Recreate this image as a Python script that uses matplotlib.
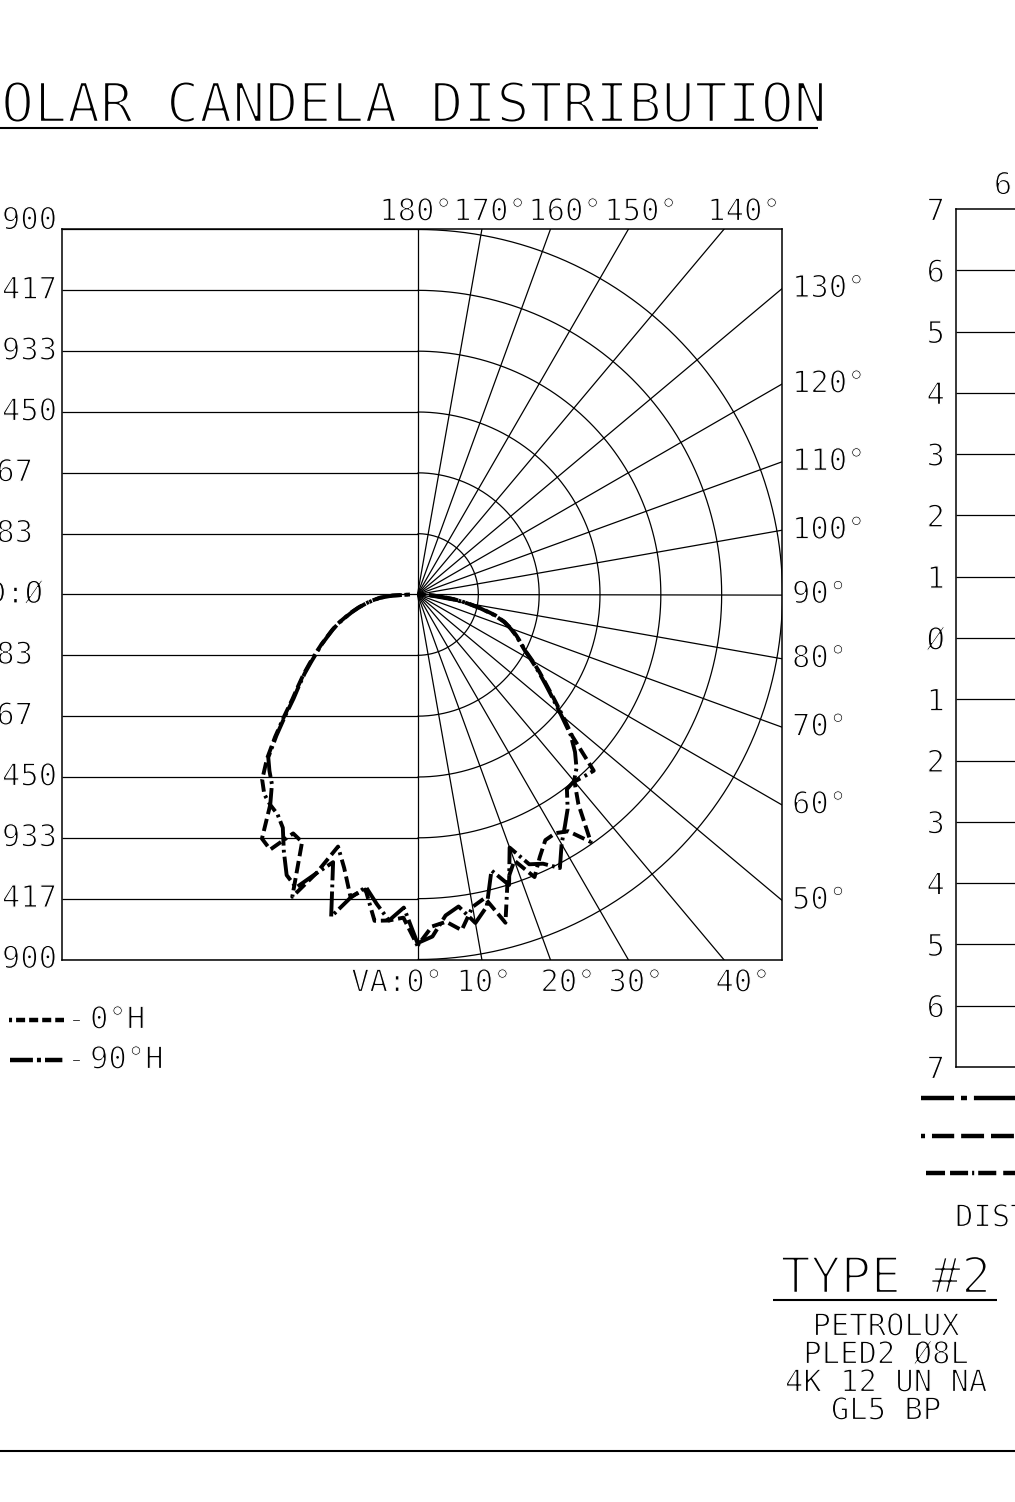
import numpy as np
import matplotlib.pyplot as plt
import matplotlib.transforms as mtransforms
from matplotlib import patheffects as pe

plt.rcParams["font.family"] = ["DejaVu Sans Mono", "DejaVu Sans"]
plt.rcParams["lines.scale_dashes"] = False
plt.rcParams["lines.dash_capstyle"] = "butt"
plt.rcParams["lines.solid_capstyle"] = "butt"

W, H = 1015, 1502

# ---- chart values ----
cd_max = 2900
cd_rings = 6
cd_tick_labels = ["2900", "2417", "1933", "1450", "967", "483", "CD:Ø",
                  "483", "967", "1450", "1933", "2417", "2900"]

grid_angles = np.arange(0, 181, 10)
top_labels = ["180°", "170°", "160°", "150°", "140°"]
right_label_angles = [130, 120, 110, 100, 90, 80, 70, 60, 50]
bottom_labels = ["VA:0°", "10°", "20°", "30°", "40°"]

# vertical angle (deg from nadir) and candela for each half plane
va = np.arange(0, 90.1, 2.5)

cd_0h_right = [2790, 2640, 2610, 2690, 2520, 2470, 2700, 2380, 2250, 2430,
               2300, 2200, 2190, 2230, 2400, 2100, 1940,
               1960, 1980, 1670, 1510, 1370, 1250, 1150, 1055, 965, 905,
               850, 790, 725, 640, 525, 410, 300, 190, 90, 20]
cd_90h_right = [2770, 2720, 2560, 2500, 2650, 2540, 2270, 2420, 2140, 2320,
                2360, 2450, 2290, 2180, 2080, 1950, 1935,
                1870, 1770, 1650, 1490, 1355, 1240, 1140, 1045, 960, 900,
                845, 785, 720, 630, 515, 400, 290, 180, 85, 15]
cd_0h_left = [2790, 2570, 2600, 2615, 2380, 2460, 2250, 2100, 2360, 2600,
              2170, 2140, 2340, 2300, 2040, 2000, 1920,
              1770, 1600, 1440, 1300, 1195, 1105, 1015, 935, 862, 792,
              732, 672, 602, 542, 482, 422, 362, 300, 200, 60]
cd_90h_left = [2770, 2490, 2600, 2480, 2360, 2470, 2650, 2230, 2360, 2520,
               2460, 2300, 2140, 2070, 2040, 1900, 1830,
               1755, 1585, 1425, 1285, 1185, 1095, 1005, 925, 858, 788,
               728, 668, 598, 538, 478, 418, 358, 298, 198, 55]

dist_ticks = np.arange(7, -8, -1)
dist_labels = ["Ø" if v == 0 else str(abs(v)) for v in dist_ticks]

luminaire_lines = ["PETROLUX", "PLED2 Ø8L", "4K 12 UN NA", "GL5 BP"]

# ---- styles ----
style_0h = (0, (2, 3, 9, 3.5, 9, 3.5, 9, 3.5, 9, 3.5))
style_90h = (0, (18, 3, 2, 3))
thin = [pe.Stroke(linewidth=0.9, foreground="white")]
thin_big = [pe.Stroke(linewidth=1.8, foreground="white")]
LBL = 22
GRID_LW = 0.9


def fig_rect(x0, y0, x1, y1):
    return [x0 / W, 1 - y1 / H, (x1 - x0) / W, (y1 - y0) / H]


def polar_xy(angles, cd, side):
    t = np.radians(angles)
    cd = np.asarray(cd, dtype=float)
    return side * cd * np.sin(t), -cd * np.cos(t)


fig = plt.figure(figsize=(W / 100, H / 100), dpi=100)

# main polar candela plot
cx, cy = 417.5, 594.5
s = 365.0 / cd_max
box = (62, 229, 782, 960)
ax = fig.add_axes(fig_rect(*box))
ax.set_xlim((box[0] - cx) / s, (box[2] - cx) / s)
ax.set_ylim((cy - box[3]) / s, (cy - box[1]) / s)
ax.set_xticks([])
ax.set_yticks([])
for sp in ax.spines.values():
    sp.set_linewidth(1.1)

step = cd_max / cd_rings
xl = ax.get_xlim()
for k in range(-cd_rings, cd_rings + 1):
    ax.plot([xl[0], 0], [k * step, k * step], color="black", lw=GRID_LW)

t = np.radians(np.linspace(0, 180, 361))
for k in range(1, cd_rings + 1):
    ax.plot(k * step * np.sin(t), -k * step * np.cos(t), color="black", lw=GRID_LW)

for a in grid_angles:
    r = np.radians(a)
    ax.plot([0, 3 * cd_max * np.sin(r)], [0, -3 * cd_max * np.cos(r)],
            color="black", lw=GRID_LW)

for cd, side, ls in [(cd_0h_right, 1, style_0h), (cd_90h_right, 1, style_90h),
                     (cd_0h_left, -1, style_0h), (cd_90h_left, -1, style_90h)]:
    x, y = polar_xy(va, cd, side)
    ax.plot(x, y, color="black", lw=2.8, linestyle=ls)

# overlay in pixel coordinates for text and drawing furniture
lay = fig.add_axes([0, 0, 1, 1], zorder=5)
lay.set_xlim(0, W)
lay.set_ylim(H, 0)
lay.axis("off")

mix = mtransforms.blended_transform_factory(lay.transData, ax.transData)

label_right_px = [57, 57, 57, 57, 33, 33, 43, 33, 33, 57, 57, 57, 57]
for i, (lab, xr) in enumerate(zip(cd_tick_labels, label_right_px)):
    k = cd_rings - i
    yy = k * step + (70 if k == cd_rings else 0)
    lay.text(xr, yy, lab, transform=mix, ha="right", va="center",
             fontsize=LBL, path_effects=thin)

x_right = ax.get_xlim()[1]
for a in right_label_angles:
    yy = -x_right / np.tan(np.radians(a))
    lay.text(792, yy, f"{a}°", transform=mix, ha="left", va="center",
             fontsize=LBL, path_effects=thin)

for lab, xc in zip(top_labels, [416, 490, 565, 641, 744]):
    lay.text(xc, 212, lab, ha="center", va="center", fontsize=LBL, path_effects=thin)

lay.text(443, 983, bottom_labels[0], ha="right", va="center", fontsize=LBL,
         path_effects=thin)
for lab, xc in zip(bottom_labels[1:], [484, 568, 636, 743]):
    lay.text(xc, 983, lab, ha="center", va="center", fontsize=LBL, path_effects=thin)

# title
lay.text(826, 122, "POLAR CANDELA DISTRIBUTION", ha="right", va="baseline",
         fontsize=39.5, path_effects=thin_big)
lay.plot([0, 818], [128, 128], color="black", lw=1.5)

# legend
lay.plot([9, 64], [1020, 1020], color="black", lw=3.2,
         linestyle=(0, (2.2, 2.9, 6.5, 2.9, 6.5, 2.9, 6.5, 2.9, 6.5, 30)))
lay.text(76, 1020, "-", ha="center", va="center", fontsize=LBL, path_effects=thin)
lay.text(90, 1020, "0°H", ha="left", va="center", fontsize=LBL, path_effects=thin)
lay.plot([10, 63], [1060, 1060], color="black", lw=3.2,
         linestyle=(0, (16.5, 2.9, 2.9, 2.9, 12.5, 40)))
lay.text(76, 1060, "-", ha="center", va="center", fontsize=LBL, path_effects=thin)
lay.text(90, 1060, "90°H", ha="left", va="center", fontsize=LBL, path_effects=thin)

# distribution chart (cut off at right edge)
ax2 = fig.add_axes(fig_rect(956, 209, 956 + 14 * 47, 1067))
ax2.set_xlim(-7, 7)
ax2.set_ylim(-7, 7)
ax2.set_xticks([])
ax2.set_yticks(dist_ticks)
ax2.set_yticklabels(dist_labels)
ax2.tick_params(axis="y", length=0, pad=8, labelsize=LBL)
for lbl in ax2.get_yticklabels():
    lbl.set_path_effects(thin)
for sp in ax2.spines.values():
    sp.set_linewidth(1.1)
for v in range(-6, 7):
    ax2.axhline(v, color="black", lw=GRID_LW)
ax2.text(-6, 7.38, "6", ha="center", va="center", fontsize=LBL, path_effects=thin)

lay.plot([921, 1020], [1098, 1098], color="black", lw=3.2,
         linestyle=(0, (23.8, 5, 4.3, 5, 40)))
lay.plot([921, 1020], [1136, 1136], color="black", lw=3.2,
         linestyle=(0, (2.9, 5, 16, 5, 16.5, 5, 16.5, 5)))
lay.plot([926, 1020], [1173, 1173], color="black", lw=3.2,
         linestyle=(0, (13.7, 3.6, 13, 2.9, 1.5, 2.9, 13, 5, 13, 5)))
lay.text(955, 1218, "DISTANCE", ha="left", va="center", fontsize=LBL,
         path_effects=thin)

# luminaire block
lay.text(886, 1293, "TYPE #2", ha="center", va="baseline", fontsize=36,
         path_effects=thin_big)
lay.plot([773, 997], [1300, 1300], color="black", lw=1.5)
for i, txt in enumerate(luminaire_lines):
    lay.text(886, 1327 + 28 * i, txt, ha="center", va="center", fontsize=22,
             path_effects=thin)
lay.plot([0, W], [1451, 1451], color="black", lw=1.5)

fig.savefig("out.png", dpi=100, facecolor="white")
plt.close(fig)
